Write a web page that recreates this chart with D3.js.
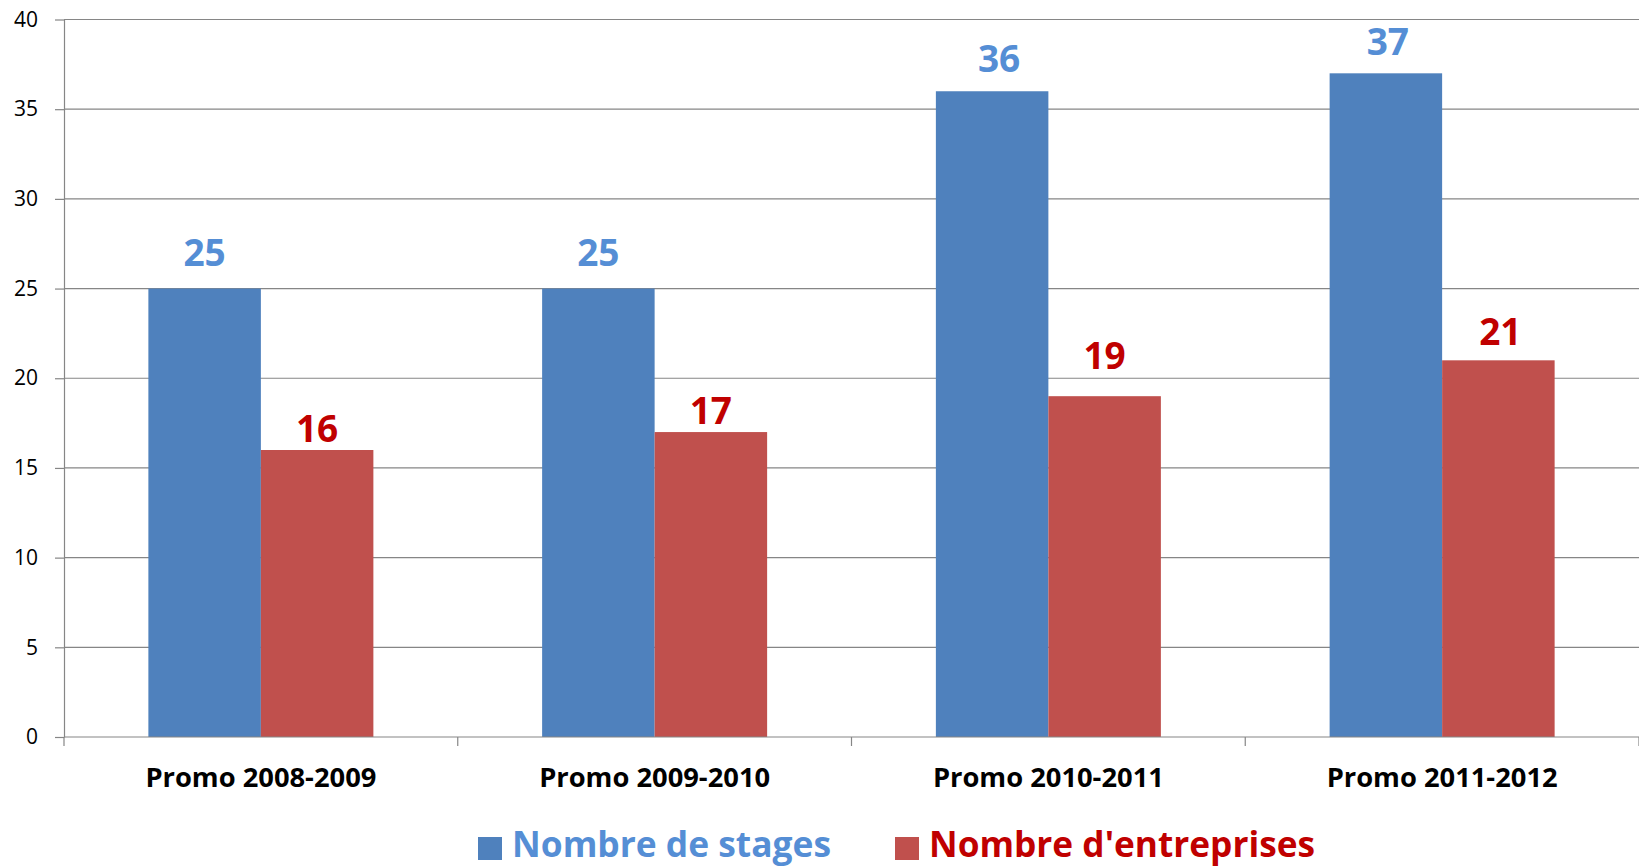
<!DOCTYPE html>
<html>
<head>
<meta charset="utf-8">
<script src="https://cdn.jsdelivr.net/npm/d3@7"></script>
<style>
  html, body { margin: 0; padding: 0; background: #fff; }
  svg { display: block; font-family: "Open Sans", "Noto Sans", sans-serif; }
  .grid line { stroke: #868686; stroke-width: 1.2; }
  .axis path, .axis line { stroke: #868686; stroke-width: 1.2; }
</style>
</head>
<body>
<svg id="chart" width="1639" height="868"></svg>
<script>
const categories = ['Promo 2008-2009', 'Promo 2009-2010', 'Promo 2010-2011', 'Promo 2011-2012'];
const seriesNames = ['Nombre de stages', "Nombre d'entreprises"];
const stages = [25, 25, 36, 37];
const entreprises = [16, 17, 19, 21];
const yTicks = [0, 5, 10, 15, 20, 25, 30, 35, 40];

// bar fills, label/legend text colours
const barColors = ['#4f81bd', '#c0504d'];
const textColors = ['#558ed5', '#c00000'];

// labels were hand-placed in the original, so nudge them per bar
const labelGap = [[23, 23, 19, 18], [8, 8, 27, 15]];
const labelDx = [[0, 0, 7, 2], [0, 0, 0, 2]];

const svg = d3.select('#chart');
const margin = { top: 19.5, left: 64, right: 0, bottom: 131 };
const width = 1639 - margin.left - margin.right;
const height = 868 - margin.top - margin.bottom;

const g = svg.append('g').attr('transform', `translate(${margin.left},${margin.top})`);

const x0 = d3.scaleBand().domain(categories).range([0, width]);
const x1 = d3.scaleBand().domain(seriesNames).range([0, x0.bandwidth()])
  .paddingInner(0).paddingOuter(0.75);
const y = d3.scaleLinear().domain([0, 40]).range([height, 0]);

// gridlines
g.append('g').attr('class', 'grid')
  .selectAll('line').data(yTicks.filter(d => d > 0)).join('line')
  .attr('x1', 0).attr('x2', width)
  .attr('y1', d => y(d)).attr('y2', d => y(d));

// y axis
const yAxis = g.append('g').attr('class', 'axis')
  .call(d3.axisLeft(y).tickValues(yTicks).tickSize(9).tickPadding(17).tickSizeOuter(0));
yAxis.attr('font-family', null);
yAxis.selectAll('text')
  .attr('fill', '#000').style('font-size', '21px');

// bars
const rows = categories.map((c, i) => ({ cat: c, i, values: [stages[i], entreprises[i]] }));

const groups = g.append('g').selectAll('g').data(rows).join('g')
  .attr('transform', d => `translate(${x0(d.cat)},0)`);

groups.selectAll('rect')
  .data(d => d.values.map((v, s) => ({ v, s })))
  .join('rect')
  .attr('x', d => x1(seriesNames[d.s]))
  .attr('width', x1.bandwidth())
  .attr('y', d => y(d.v))
  .attr('height', d => height - y(d.v))
  .attr('fill', d => barColors[d.s]);

groups.selectAll('text.val')
  .data(d => d.values.map((v, s) => ({ v, s, i: d.i })))
  .join('text')
  .attr('class', 'val')
  .attr('x', d => x1(seriesNames[d.s]) + x1.bandwidth() / 2 + labelDx[d.s][d.i])
  .attr('y', d => y(d.v) - labelGap[d.s][d.i])
  .attr('text-anchor', 'middle')
  .attr('fill', d => textColors[d.s])
  .style('font-size', '37px')
  .style('font-weight', 'bold')
  .text(d => d.v);

// x axis (ticks at category boundaries)
const xAxisG = g.append('g').attr('class', 'axis').attr('transform', `translate(0,${height})`);
xAxisG.append('line').attr('x1', 0).attr('x2', width).attr('y1', 0).attr('y2', 0);
xAxisG.selectAll('line.tick')
  .data(categories.map(c => x0(c)).concat([width]))
  .join('line')
  .attr('class', 'tick')
  .attr('x1', d => d).attr('x2', d => d)
  .attr('y1', 0).attr('y2', 9);
xAxisG.selectAll('text')
  .data(categories).join('text')
  .attr('x', d => x0(d) + x0.bandwidth() / 2)
  .attr('y', 50)
  .attr('text-anchor', 'middle')
  .attr('fill', '#000')
  .attr('textLength', 231)
  .attr('lengthAdjust', 'spacingAndGlyphs')
  .style('font-size', '26px')
  .style('font-weight', 'bold')
  .text(d => d);

// legend
const legendItems = [
  { name: seriesNames[0], x: 478, len: 319 },
  { name: seriesNames[1], x: 895, len: 386 }
];
const legend = svg.append('g');
legendItems.forEach((it, s) => {
  legend.append('rect')
    .attr('x', it.x).attr('y', 837).attr('width', 24).attr('height', 23)
    .attr('fill', barColors[s]);
  legend.append('text')
    .attr('x', it.x + 34).attr('y', 857)
    .attr('fill', textColors[s])
    .attr('textLength', it.len)
    .attr('lengthAdjust', 'spacingAndGlyphs')
    .style('font-size', '36px')
    .style('font-weight', 'bold')
    .text(it.name);
});
</script>
</body>
</html>
